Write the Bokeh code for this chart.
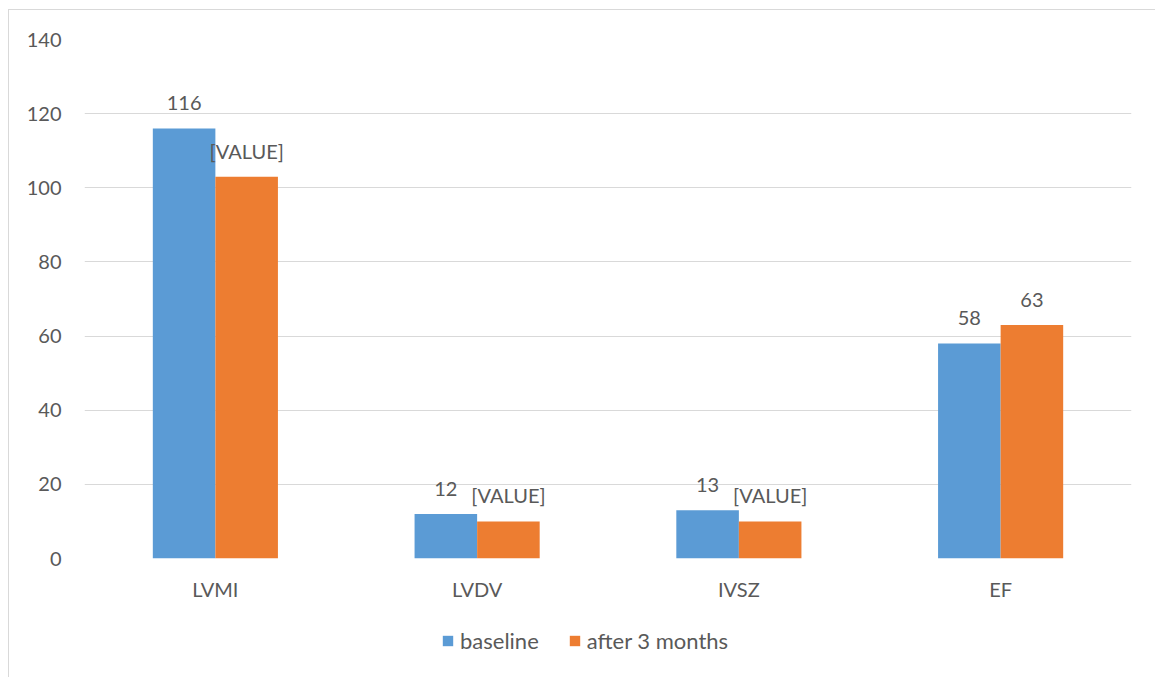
from bokeh.plotting import figure
from bokeh.layouts import column
from bokeh.models import ColumnDataSource, FactorRange, Range1d, LabelSet, Legend, LegendItem
from bokeh.transform import dodge
from bokeh.core.properties import value
from bokeh.embed import file_html
from bokeh.resources import INLINE

categories = ["LVMI", "LVDV", "IVSZ", "EF"]
baseline = [116, 12, 13, 58]
after_3_months = [103, 10, 10, 63]
baseline_labels = ["116", "12", "13", "58"]
after_labels = ["[VALUE]", "[VALUE]", "[VALUE]", "63"]
series_names = ["baseline", "after 3 months"]
colors = ["#5B9BD5", "#ED7D31"]
y_ticks = [0, 20, 40, 60, 80, 100, 120, 140]

FONT = "Lato"
TXT = "#595959"
BORDER = "1px solid #D9D9D9"

src = ColumnDataSource(dict(cat=categories, base=baseline, after=after_3_months,
                            bl=baseline_labels, al=after_labels))

p = figure(x_range=FactorRange(*categories), y_range=Range1d(0, 140),
           width=1147, height=610, output_backend="svg", toolbar_location=None,
           min_border_left=75, min_border_right=25, min_border_top=29, min_border_bottom=62)
p.margin = (9, 0, 0, 8)
p.styles = {"border-left": BORDER, "border-top": BORDER}
p.outline_line_color = None
p.background_fill_color = "white"
p.border_fill_color = "white"

w = 0.239
r1 = p.vbar(x=dodge("cat", -w / 2, range=p.x_range), top="base", width=w, source=src,
            fill_color=colors[0], line_color=None)
r2 = p.vbar(x=dodge("cat", w / 2, range=p.x_range), top="after", width=w, source=src,
            fill_color=colors[1], line_color=None)

for col, off in (("bl", -w / 2), ("al", w / 2)):
    ycol = "base" if col == "bl" else "after"
    ls = LabelSet(x=dodge("cat", off, range=p.x_range), y=ycol, text=col, source=src,
                  text_align="center", text_baseline="alphabetic", y_offset=18,
                  text_font=value(FONT), text_font_size=value("20px"), text_color=value(TXT))
    p.add_layout(ls)

p.yaxis.ticker = y_ticks
p.ygrid.ticker = y_ticks
p.xgrid.grid_line_color = None
p.ygrid.grid_line_color = "#D9D9D9"
p.ygrid.grid_line_width = 1

for ax in (p.xaxis, p.yaxis):
    ax.axis_line_color = None
    ax.major_tick_line_color = None
    ax.minor_tick_line_color = None
    ax.major_tick_out = 0
    ax.major_tick_in = 0
    ax.minor_tick_out = 0
    ax.major_label_text_font = FONT
    ax.major_label_text_font_size = "20px"
    ax.major_label_text_color = TXT
p.yaxis.major_label_standoff = 23
p.xaxis.major_label_standoff = 18

# legend strip below the chart (its bars lie outside its visible y range)
p2 = figure(width=1147, height=58, output_backend="svg", toolbar_location=None,
            x_range=FactorRange(*categories), y_range=Range1d(300, 301),
            x_axis_type=None, y_axis_type=None,
            min_border_left=0, min_border_right=0, min_border_top=0, min_border_bottom=0)
p2.margin = (0, 0, 0, 8)
p2.styles = {"border-left": BORDER}
p2.outline_line_color = None
p2.xgrid.grid_line_color = None
p2.ygrid.grid_line_color = None
l1 = p2.vbar(x="cat", top="base", width=0.2, source=src, fill_color=colors[0], line_color=None)
l2 = p2.vbar(x="cat", top="after", width=0.2, source=src, fill_color=colors[1], line_color=None)

legend = Legend(items=[LegendItem(label=series_names[0], renderers=[l1]),
                       LegendItem(label=series_names[1], renderers=[l2])],
                orientation="horizontal", location=(357, 23),
                label_text_font=FONT, label_text_font_size="22px", label_text_color=TXT,
                glyph_width=13, glyph_height=13, label_standoff=6, spacing=29,
                border_line_color=None, background_fill_alpha=0, padding=8, margin=0)
p2.add_layout(legend, "center")

layout = column(p, p2, spacing=0)
open("out.html", "w").write(file_html(layout, INLINE))
